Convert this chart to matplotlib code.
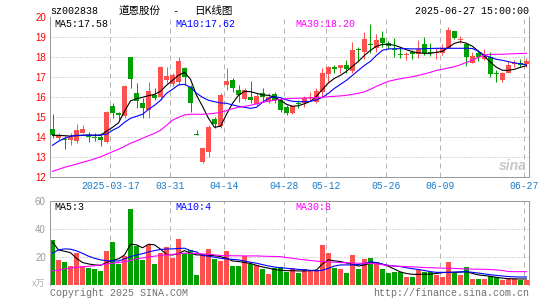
import numpy as np
import matplotlib
matplotlib.use("Agg")
import matplotlib.pyplot as plt
from matplotlib.transforms import blended_transform_factory

W, H = 545, 300
MONO = ["Liberation Mono", "DejaVu Sans Mono"]
SANS = ["Liberation Sans", "DejaVu Sans"]
CJK = ["Noto Sans CJK SC", "DejaVu Sans"]

# ----------------------------------------------------------------- data
tick_idx = [10, 20, 29, 39, 46, 56, 65, 79]
tick_labels = ["2025-03-17", "03-31", "04-14", "04-28", "05-12", "05-26", "06-09", "06-27"]

opens = [14.41, 13.96, 13.92, 13.87, 13.83, 14.23, 14.07, 14.03, 14.00, 13.78,
         15.56, 15.23, 15.07, 18.00, 16.23, 15.73, 15.37, 16.12, 16.00, 16.87,
         16.68, 16.75, 17.45, 16.53, 14.13, 12.78, 13.28, 14.92, 14.57, 16.62,
         16.87, 16.37, 15.90, 16.03, 15.67, 16.23, 15.80, 16.17, 15.87, 15.50,
         15.20, 15.68, 15.73, 15.98, 15.78, 16.28, 17.17, 17.47, 17.48, 17.62,
         17.33, 18.42, 18.25, 18.67, 18.45, 18.95, 18.73, 18.38, 18.17, 18.13,
         18.25, 18.15, 18.65, 18.27, 18.23, 18.23, 18.48, 19.32, 18.85, 18.67,
         17.73, 18.23, 17.90, 18.00, 17.18, 16.87, 17.23, 17.68, 17.73, 17.65]
closes = [14.12, 14.10, 13.88, 14.03, 14.37, 14.41, 14.00, 13.97, 13.87, 15.28,
          15.23, 15.10, 16.57, 16.90, 15.83, 15.45, 16.32, 15.98, 17.53, 17.08,
          17.10, 17.80, 17.03, 15.70, 14.11, 13.45, 14.53, 14.67, 16.12, 16.82,
          16.48, 16.12, 16.35, 15.87, 16.08, 16.03, 16.00, 15.87, 15.37, 15.20,
          15.57, 15.65, 15.95, 16.00, 16.33, 17.23, 17.53, 17.44, 17.62, 17.42,
          18.37, 18.38, 18.90, 18.63, 18.87, 18.73, 18.57, 18.35, 18.13, 18.17,
          18.15, 18.40, 18.23, 18.23, 18.27, 18.45, 19.37, 18.98, 18.88, 18.00,
          18.07, 18.03, 18.07, 17.17, 17.15, 17.23, 17.62, 17.72, 17.62, 17.80]
highs = [15.15, 14.22, 14.07, 14.23, 14.66, 14.62, 14.28, 14.20, 14.20, 15.30,
         15.70, 15.28, 16.62, 18.00, 16.70, 15.95, 16.75, 16.45, 17.55, 17.53,
         17.20, 18.03, 17.53, 16.62, 14.37, 13.47, 14.62, 15.03, 16.20, 17.45,
         16.98, 16.62, 16.45, 16.83, 16.20, 16.48, 16.20, 16.28, 15.95, 15.62,
         15.60, 15.87, 16.07, 16.28, 16.45, 17.48, 17.57, 17.62, 17.63, 17.87,
         18.78, 18.50, 19.28, 19.67, 19.17, 19.33, 18.83, 18.95, 18.45, 18.28,
         18.35, 18.87, 19.00, 18.73, 18.45, 18.65, 19.53, 19.33, 19.07, 18.68,
         18.28, 18.37, 18.40, 18.28, 17.37, 17.25, 17.82, 17.87, 17.90, 17.95]
lows = [13.95, 13.85, 13.40, 13.62, 13.73, 14.20, 13.78, 13.80, 13.58, 13.73,
        14.95, 14.87, 14.95, 16.45, 15.45, 14.98, 14.98, 15.87, 15.85, 16.70,
        16.55, 16.60, 16.62, 15.28, 14.10, 12.73, 13.03, 14.45, 14.48, 16.37,
        16.28, 15.78, 15.85, 15.70, 15.60, 15.78, 15.70, 15.70, 15.28, 15.12,
        15.15, 15.45, 15.53, 15.80, 15.70, 16.03, 16.78, 17.20, 17.20, 17.20,
        17.20, 17.83, 17.90, 18.20, 18.28, 18.53, 18.40, 18.03, 17.95, 17.87,
        17.90, 17.95, 18.12, 18.07, 17.90, 18.12, 18.45, 18.92, 18.70, 17.58,
        17.70, 17.83, 17.87, 17.03, 16.78, 16.78, 17.20, 17.53, 17.53, 17.53]

ma5 = [14.10, 14.10, 14.08, 14.06, 14.08, 14.10, 14.12, 14.10, 14.10, 14.30,
       14.50, 14.72, 15.30, 15.82, 15.93, 16.00, 16.08, 16.15, 16.30, 16.60,
       16.85, 17.10, 17.25, 16.90, 16.10, 15.55, 14.95, 14.50, 14.55, 15.15,
       15.70, 16.10, 16.30, 16.28, 16.20, 16.12, 16.10, 16.00, 15.85, 15.65,
       15.55, 15.58, 15.68, 15.80, 16.05, 16.40, 16.72, 16.95, 17.10, 17.30,
       17.55, 17.80, 18.10, 18.35, 18.55, 18.65, 18.65, 18.60, 18.50, 18.38,
       18.28, 18.22, 18.20, 18.20, 18.25, 18.30, 18.50, 18.70, 18.78, 18.70,
       18.55, 18.30, 18.05, 17.75, 17.50, 17.35, 17.35, 17.40, 17.50, 17.58]
ma10 = [13.60, 13.80, 13.95, 14.05, 14.10, 14.10, 14.10, 14.10, 14.12, 14.15,
        14.35, 14.50, 14.75, 14.95, 15.05, 15.15, 15.40, 15.60, 15.85, 16.20,
        16.40, 16.62, 16.65, 16.50, 16.20, 16.00, 15.85, 15.78, 15.72, 15.70,
        15.62, 15.55, 15.50, 15.45, 15.50, 15.75, 15.95, 16.03, 15.98, 15.87,
        15.80, 15.78, 15.78, 15.80, 15.87, 16.00, 16.20, 16.45, 16.65, 16.85,
        17.10, 17.35, 17.60, 17.80, 18.10, 18.35, 18.42, 18.43, 18.43, 18.43,
        18.42, 18.42, 18.43, 18.44, 18.45, 18.45, 18.45, 18.45, 18.45, 18.45,
        18.44, 18.30, 18.10, 18.00, 17.90, 17.85, 17.78, 17.72, 17.68, 17.62]
ma30 = [12.30, 12.40, 12.50, 12.58, 12.66, 12.75, 12.83, 12.92, 13.02, 13.15,
        13.28, 13.40, 13.55, 13.70, 13.82, 13.95, 14.08, 14.20, 14.35, 14.60,
        14.85, 15.00, 15.12, 15.15, 15.15, 15.15, 15.17, 15.20, 15.25, 15.33,
        15.43, 15.50, 15.55, 15.60, 15.67, 15.75, 15.80, 15.85, 15.90, 15.93,
        15.95, 15.95, 15.96, 15.97, 15.99, 16.00, 16.03, 16.05, 16.07, 16.10,
        16.15, 16.20, 16.28, 16.40, 16.55, 16.68, 16.80, 16.87, 16.93, 16.98,
        17.03, 17.10, 17.17, 17.25, 17.35, 17.40, 17.47, 17.53, 17.63, 17.75,
        17.85, 18.00, 18.12, 18.15, 18.15, 18.15, 18.17, 18.18, 18.19, 18.20]

volume = [32.1, 17.9, 16.4, 13.8, 22.9, 13.8, 12.4, 11.4, 10.0, 24.3,
          30.7, 14.8, 20.7, 54.3, 27.6, 18.1, 28.8, 15.0, 22.6, 26.7,
          19.5, 32.9, 23.1, 25.0, 7.1, 21.9, 25.7, 18.6, 17.1, 24.3,
          13.6, 13.6, 20.5, 15.0, 14.3, 11.4, 7.9, 12.4, 12.9, 9.5,
          11.9, 8.6, 11.4, 10.7, 10.7, 28.6, 22.9, 12.1, 11.4, 8.6,
          21.4, 11.4, 18.8, 19.5, 15.5, 11.4, 8.8, 9.3, 9.3, 5.7,
          5.7, 10.7, 9.0, 9.0, 7.1, 5.7, 16.4, 8.3, 7.4, 12.9,
          4.3, 4.3, 4.3, 6.7, 5.5, 3.6, 4.5, 4.5, 3.6, 3.6]
vma5 = [30.5, 25.0, 24.0, 23.0, 19.0, 16.0, 15.0, 14.3, 14.0, 16.0,
        17.5, 18.6, 21.4, 29.0, 28.6, 26.5, 29.0, 28.6, 25.5, 21.8,
        21.4, 22.3, 24.5, 22.6, 21.4, 21.4, 21.2, 20.8, 20.2, 19.0,
        17.1, 16.7, 16.0, 15.3, 14.0, 12.8, 12.0, 11.0, 10.5, 10.2,
        10.2, 10.0, 10.0, 10.2, 10.7, 15.0, 17.9, 17.2, 16.7, 15.7,
        14.8, 13.5, 14.3, 15.5, 16.0, 14.8, 13.3, 11.3, 9.3, 8.2,
        7.6, 7.6, 7.6, 7.8, 8.2, 8.8, 9.0, 9.0, 9.2, 9.5,
        8.2, 7.2, 6.7, 6.2, 5.4, 4.9, 4.5, 4.4, 4.3, 4.3]
vma10 = [22.6, 25.0, 25.7, 25.5, 24.3, 22.5, 20.5, 19.0, 17.9, 17.3,
         17.1, 17.1, 18.5, 20.2, 21.4, 22.3, 23.5, 24.5, 25.3, 25.6,
         25.7, 26.0, 26.2, 24.5, 23.5, 21.0, 20.5, 19.8, 19.0, 18.6,
         18.2, 17.9, 17.0, 16.2, 15.5, 14.5, 13.5, 12.8, 12.3, 11.9,
         11.5, 11.1, 10.8, 10.4, 10.0, 10.5, 11.9, 13.5, 14.3, 14.3,
         14.3, 14.6, 15.3, 16.5, 16.0, 14.8, 14.0, 13.5, 13.1, 12.3,
         11.6, 11.0, 10.3, 9.5, 9.0, 9.0, 9.0, 9.2, 9.3, 9.5,
         9.0, 8.5, 7.9, 7.3, 6.8, 6.4, 6.0, 5.8, 5.7, 5.7]
vma30 = [10.0, 10.5, 11.5, 12.0, 12.5, 13.0, 13.3, 13.7, 14.3, 15.0,
         15.5, 16.0, 16.5, 17.5, 18.6, 19.3, 20.0, 20.5, 21.0, 21.4,
         21.8, 22.2, 22.6, 22.6, 22.5, 22.1, 21.9, 21.5, 21.0, 20.9,
         20.8, 20.8, 20.7, 20.7, 20.7, 20.5, 20.4, 20.3, 20.2, 19.5,
         19.0, 18.4, 17.9, 17.4, 17.0, 16.7, 16.5, 16.2, 16.0, 15.8,
         15.6, 15.5, 15.5, 15.3, 15.0, 14.5, 13.8, 13.5, 13.3, 13.1,
         12.9, 12.7, 12.4, 12.3, 12.2, 12.0, 11.9, 11.8, 11.6, 11.4,
         11.3, 11.2, 11.2, 11.0, 10.7, 10.3, 9.6, 9.5, 9.5, 9.5]

RED, GREEN = "#ff5050", "#00a000"
GRID = "#b4b4b4"
PX = 0.72  # one pixel in points at dpi 100

x = np.arange(len(closes))
o, c = np.array(opens), np.array(closes)
up = c >= o
cols = np.where(up, RED, GREEN)

fig = plt.figure(figsize=(W / 100, H / 100), dpi=100)
fig.patch.set_facecolor("white")


def px_axes(left, top, right, bottom):
    return fig.add_axes([left / W, 1 - bottom / H, (right - left) / W, (bottom - top) / H])


def ftext(px, py, s, **kw):
    fig.text(px / W, 1 - py / H, s, **kw)


ax = px_axes(50, 17.3, 529, 177.3)
axv = px_axes(50, 200.7, 529, 285)

XL = (-0.42, 79.42)
for a in (ax, axv):
    a.set_xlim(*XL)
    a.set_xticks([])
    a.tick_params(axis="y", length=0, pad=3, labelsize=7)
    for s in a.spines.values():
        s.set_color("#9a9a9a")
        s.set_linewidth(PX)
    for t in tick_idx:
        a.axvline(t - 0.37, color=GRID, lw=PX, ls=(0, (5, 4)), zorder=0)

# ---------------- price panel
ax.set_ylim(12, 20)
ax.spines["top"].set_visible(False)
for yv in range(13, 20):
    ax.axhline(yv, color=GRID, lw=PX, ls=(0, (1, 2)), zorder=0)
ax.set_yticks(range(12, 21))
ax.set_yticklabels([str(v) for v in range(12, 21)], color="red", family=SANS)

ax.vlines(x, lows, highs, colors=cols, lw=PX, zorder=2)
body = np.maximum(np.abs(c - o), 0.05)
ax.bar(x, body, bottom=np.minimum(o, c), width=0.78, color=cols, linewidth=0, zorder=3)

ax.plot(x, ma5, color="black", lw=0.8, zorder=4)
ax.plot(x, ma10, color="#0000ff", lw=0.8, zorder=4)
ax.plot(x, ma30, color="#ff00ff", lw=0.8, zorder=4)

tr = blended_transform_factory(ax.transData, ax.transAxes)
for t, lab in zip(tick_idx, tick_labels):
    ax.text(t - 0.37, -0.054, lab, transform=tr, ha="center", va="center",
            fontsize=7, color="#1a7fd0", family=MONO)

ftext(513, 166, "sina", fontsize=10, color="#c8c8c8", style="italic",
      weight="bold", family=SANS, ha="center", va="center")

# ---------------- volume panel
axv.set_ylim(0, 60)
axv.spines["bottom"].set_visible(False)
for yv in (20, 40):
    axv.axhline(yv, color=GRID, lw=PX, ls=(0, (1, 2)), zorder=0)
axv.set_yticks([20, 40, 60])
axv.set_yticklabels(["20", "40", "60"], color="#9a9a9a", family=SANS)
axv.bar(x, volume, width=0.8, color=cols, linewidth=0, zorder=2)
axv.plot(x, vma5, color="black", lw=0.8, zorder=3)
axv.plot(x, vma10, color="#0000ff", lw=0.8, zorder=3)
axv.plot(x, vma30, color="#ff00ff", lw=0.8, zorder=3)

# ---------------- texts
ftext(50, 11, "sz002838", fontsize=7.2, family=MONO, va="center")
ftext(119, 11, "道恩股份", fontsize=7.6, family=CJK, va="center")
ftext(175, 11, "-", fontsize=7.6, family=MONO, va="center", ha="center")
ftext(194, 11, "日K线图", fontsize=7.6, family=CJK, va="center")
ftext(529, 11.5, "2025-06-27 15:00:00", fontsize=7.2, family=MONO, va="center", ha="right")

ftext(54, 24, "MA5:17.58", fontsize=7.2, family=MONO, va="center", color="black")
ftext(175, 24, "MA10:17.62", fontsize=7.2, family=MONO, va="center", color="#0000ff")
ftext(295, 24, "MA30:18.20", fontsize=7.2, family=MONO, va="center", color="#ff00ff")

ftext(54, 207, "MA5:3", fontsize=7.2, family=MONO, va="center", color="black")
ftext(175, 207, "MA10:4", fontsize=7.2, family=MONO, va="center", color="#0000ff")
ftext(295, 207, "MA30:8", fontsize=7.2, family=MONO, va="center", color="#ff00ff")

ftext(45, 284, "x万", fontsize=6.5, family=CJK, va="center", ha="right", color="#b0b0b0")
ftext(50, 293, "Copyright 2025 SINA.COM", fontsize=7.2, family=MONO, va="center", color="#707070")
ftext(529, 293, "http://finance.sina.com.cn", fontsize=7.2, family=MONO, va="center",
      ha="right", color="#707070")

fig.savefig("out.png", dpi=100, facecolor="white")
